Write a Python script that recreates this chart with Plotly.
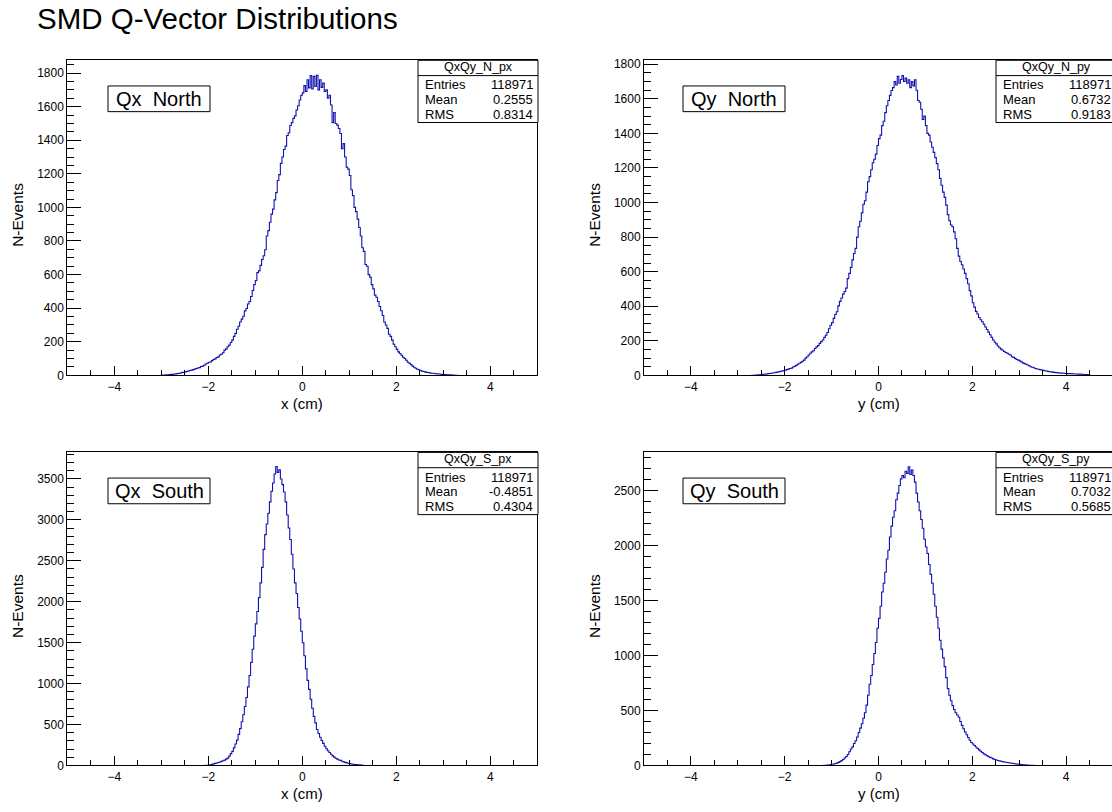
import plotly.graph_objects as go

W, H = 1112, 812
bin_width = 1 / 30

# ---- histogram contents (counts per bin, bins of width 1/30 starting at *_start) ----
qx_north_start = -3.0
qx_north = [
    1, 2, 2, 3, 4, 5, 6, 5, 8, 9, 11, 12, 14, 18, 17, 21, 24, 26, 29, 31, 34, 37, 41, 44, 46, 53, 55, 60, 68, 72,
    78, 80, 88, 94, 98, 106, 110, 121, 126, 135, 150, 158, 170, 180, 196, 210, 232, 250, 275, 292, 318, 335, 352, 384, 398, 425, 440, 470, 505, 540,
    565, 612, 622, 655, 690, 712, 748, 830, 862, 912, 960, 990, 1045, 1088, 1160, 1195, 1262, 1300, 1345, 1365, 1428, 1445, 1488, 1505, 1530, 1545, 1580, 1605, 1640, 1668,
    1682, 1725, 1690, 1760, 1712, 1785, 1705, 1780, 1720, 1786, 1700, 1760, 1715, 1740, 1690, 1700, 1650, 1668, 1610, 1505, 1565, 1500, 1490, 1470, 1440, 1350, 1380, 1300, 1240, 1228,
    1190, 1105, 1070, 1000, 975, 930, 880, 830, 760, 738, 660, 650, 600, 585, 540, 515, 478, 465, 440, 410, 385, 356, 318, 300, 280, 245, 232, 210, 185, 170,
    155, 140, 130, 120, 108, 100, 90, 78, 72, 64, 55, 48, 42, 36, 33, 29, 25, 23, 21, 18, 17, 15, 13, 13, 11, 10, 9, 8, 7, 6,
    5, 5, 4, 4, 3, 2, 2, 1, 1,
]

qy_north_start = -2.7
qy_north = [
    1, 1, 2, 2, 3, 3, 4, 6, 7, 8, 10, 11, 12, 14, 15, 17, 19, 21, 23, 25, 28,
    30, 33, 36, 40, 42, 48, 52, 58, 64, 70, 75, 82, 88, 100, 108, 118, 128, 136, 142, 155, 165, 172, 185, 195, 205, 220, 232, 248, 270, 290,
    305, 330, 352, 368, 402, 428, 448, 470, 485, 505, 560, 590, 625, 668, 705, 735, 800, 860, 892, 940, 990, 1010, 1060, 1120, 1150, 1190, 1230, 1250, 1280, 1330,
    1370, 1390, 1445, 1470, 1520, 1560, 1590, 1620, 1648, 1665, 1700, 1680, 1730, 1690, 1712, 1735, 1700, 1720, 1690, 1710, 1665, 1700, 1675, 1710, 1650, 1590, 1580, 1540, 1480, 1500,
    1445, 1400, 1390, 1350, 1320, 1290, 1260, 1225, 1190, 1140, 1100, 1060, 1030, 985, 930, 895, 870, 860, 830, 790, 735, 690, 660, 640, 615, 590, 560, 530, 490, 460,
    420, 395, 370, 355, 335, 322, 310, 296, 280, 265, 250, 235, 220, 205, 192, 182, 170, 160, 152, 145, 138, 132, 128, 122, 118, 108, 104, 98, 92, 88,
    84, 78, 72, 68, 64, 60, 56, 50, 47, 44, 40, 37, 35, 33, 31, 29, 27, 25, 23, 21, 20, 19, 17, 16, 16, 14, 13, 13, 12, 11,
    11, 10, 10, 10, 9, 8, 8, 7, 7, 7, 6, 5, 5, 4, 3,
]

qx_south_start = -2.1
qx_south = [
    0, 1, 1, 3, 8, 14, 20, 26, 30, 36, 42, 50, 58, 66, 78, 90, 115, 145, 172, 215, 262,
    310, 380, 450, 535, 620, 720, 830, 960, 1100, 1260, 1420, 1580,
    1730, 1880, 2050, 2230, 2420, 2640, 2820, 2950, 3080, 3220, 3350, 3450, 3560, 3652, 3580,
    3610, 3500, 3430, 3340, 3220, 3060, 2900, 2760, 2580, 2400, 2230, 2100, 1930, 1790, 1640,
    1500, 1340, 1180, 1040, 930, 810, 700, 600, 520, 440, 390, 345, 305, 270, 235, 205, 180, 158,
    138, 118, 102, 88, 78, 68, 62, 52, 44, 38, 32, 27, 23, 19, 16, 13, 11, 9, 7, 5, 3,
]

qy_south_start = -1.2
qy_south = [
    0, 1, 1, 3, 5, 8, 11, 14, 18, 22, 28, 35, 44, 55, 68, 82, 100, 125, 150, 170, 200,
    225, 260, 300, 340, 380, 430, 480, 550, 640, 740, 820, 920, 1020, 1120, 1250,
    1340, 1450, 1580, 1660, 1760, 1880, 1960, 2080, 2180, 2260, 2320, 2420, 2480, 2550, 2610,
    2640, 2620, 2680, 2660, 2720, 2650, 2690, 2640, 2580, 2480, 2400, 2320, 2240, 2160, 2060,
    1990, 1930, 1830, 1740, 1660, 1560, 1450, 1350, 1250, 1140, 1060, 980, 900, 800, 700,
    640, 590, 545, 510, 480, 460, 440, 400, 365, 335, 305, 280, 255, 230, 210,
    196, 182, 168, 155, 142, 130, 118, 106, 98, 90, 80, 74, 68, 60, 55, 50, 46, 42, 39, 35, 32,
    29, 27, 25, 23, 20, 18, 16, 14, 12, 11, 9, 7, 6, 4, 3, 2, 1, 1,
]

hist_names = ["QxQy_N_px", "QxQy_N_py", "QxQy_S_px", "QxQy_S_py"]
entries = ["118971", "118971", "118971", "118971"]
means = ["0.2555", "0.6732", "-0.4851", "0.7032"]
rmss = ["0.8314", "0.9183", "0.4304", "0.5685"]
panel_labels = ["Qx  North", "Qy  North", "Qx  South", "Qy  South"]
x_titles = ["x (cm)", "y (cm)", "x (cm)", "y (cm)"]
y_title = "N-Events"
main_title = "SMD Q-Vector Distributions"

FONT = "Liberation Sans, Arial, Helvetica, sans-serif"
LINE_COLOR = "#1010b0"


def px(X):
    return X / W


def py(Y):
    return 1 - Y / H


def hist_xy(start, vals):
    n = len(vals)
    edges = [start + i * bin_width for i in range(n + 1)]
    xs = [edges[0]] + edges[:-1] + [edges[-1]]
    ys = [0] + list(vals) + [0]
    return xs, ys


fig = go.Figure()

panels = [
    dict(data=(qx_north_start, qx_north), xl=67.3, xr=537.3, yt=58, yb=377, xrange=[-5, 5], ymax=1876, dy=200, mdy=50, right=False),
    dict(data=(qy_north_start, qy_north), xl=644, xr=1112, yt=58, yb=377, xrange=[-5, 4.979], ymax=1823, dy=200, mdy=50, right=True),
    dict(data=(qx_south_start, qx_south), xl=67.3, xr=537.3, yt=455, yb=772, xrange=[-5, 5], ymax=3824, dy=500, mdy=100, right=False),
    dict(data=(qy_south_start, qy_south), xl=644, xr=1112, yt=455, yb=772, xrange=[-5, 4.979], ymax=2851, dy=500, mdy=100, right=True),
]

annotations = []
shapes = []

for i, p in enumerate(panels):
    k = "" if i == 0 else str(i + 1)
    xs, ys = hist_xy(*p["data"])
    fig.add_trace(go.Scatter(
        x=xs, y=ys, mode="lines", line=dict(color=LINE_COLOR, width=1.1, shape="hv"),
        xaxis="x" + k, yaxis="y" + k, showlegend=False, hoverinfo="skip",
    ))
    fig.layout["xaxis" + k] = dict(
        domain=[px(p["xl"]), min(1.0, px(p["xr"]))], range=p["xrange"], anchor="y" + k,
        showline=True, linecolor="black", linewidth=1, mirror=True,
        showgrid=False, zeroline=False,
        ticks="inside", ticklen=9, tickcolor="black", tickwidth=1,
        tick0=0, dtick=2,
        minor=dict(ticks="inside", ticklen=5, dtick=0.5, tickcolor="black", tickwidth=1, showgrid=False),
        tickfont=dict(family=FONT, size=12, color="black"),
    )
    fig.layout["yaxis" + k] = dict(
        domain=[py(p["yb"]), py(p["yt"])], range=[0, p["ymax"]], anchor="x" + k,
        showline=True, linecolor="black", linewidth=1, mirror=not p["right"],
        showgrid=False, zeroline=False,
        ticks="inside", ticklen=14, tickcolor="black", tickwidth=1,
        tick0=0, dtick=p["dy"],
        minor=dict(ticks="inside", ticklen=7, dtick=p["mdy"], tickcolor="black", tickwidth=1, showgrid=False),
        tickfont=dict(family=FONT, size=12, color="black"),
    )

    # axis titles
    xc = p["xl"] + 235
    annotations.append(dict(x=px(xc), y=py(p["yb"] + 28), xref="paper", yref="paper",
                            text=x_titles[i], showarrow=False, xanchor="center", yanchor="middle",
                            font=dict(family=FONT, size=15, color="black")))
    yx = 18 if not p["right"] else 595
    annotations.append(dict(x=px(yx), y=py((p["yt"] + p["yb"]) / 2 - 3), xref="paper", yref="paper",
                            text=y_title, showarrow=False, textangle=-90, xanchor="center", yanchor="middle",
                            font=dict(family=FONT, size=15.5, color="black")))

    # label box
    lx0 = 108 if not p["right"] else 683
    lx1 = lx0 + 102
    ly0 = p["yt"] + 26
    ly1 = ly0 + 26
    shapes.append(dict(type="rect", xref="paper", yref="paper", x0=px(lx0), x1=px(lx1), y0=py(ly1), y1=py(ly0),
                       line=dict(color="black", width=1), fillcolor="white", layer="above"))
    annotations.append(dict(x=px((lx0 + lx1) / 2), y=py((ly0 + ly1) / 2), xref="paper", yref="paper",
                            text=panel_labels[i], showarrow=False, xanchor="center", yanchor="middle",
                            font=dict(family=FONT, size=20, color="black")))

    # stats box
    sx0 = 418 if not p["right"] else 996
    sx1 = sx0 + 120
    sy0 = p["yt"]
    sy1 = sy0 + 63
    shapes.append(dict(type="rect", xref="paper", yref="paper", x0=px(sx0), x1=px(sx1), y0=py(sy1), y1=py(sy0),
                       line=dict(color="black", width=1), fillcolor="white", layer="above"))
    shapes.append(dict(type="line", xref="paper", yref="paper", x0=px(sx0), x1=px(sx1), y0=py(sy0 + 15.5), y1=py(sy0 + 15.5),
                       line=dict(color="black", width=1), layer="above"))
    annotations.append(dict(x=px((sx0 + sx1) / 2), y=py(sy0 + 7), xref="paper", yref="paper",
                            text=hist_names[i], showarrow=False, xanchor="center", yanchor="middle",
                            font=dict(family=FONT, size=12.5, color="black")))
    for j, (lab, val) in enumerate([("Entries", entries[i]), ("Mean", means[i]), ("RMS", rmss[i])]):
        yy = sy0 + 25 + 15 * j
        annotations.append(dict(x=px(sx0 + 5), y=py(yy), xref="paper", yref="paper",
                                text=lab, showarrow=False, xanchor="left", yanchor="middle",
                                font=dict(family=FONT, size=13, color="black")))
        annotations.append(dict(x=px(sx1 - 3), y=py(yy), xref="paper", yref="paper",
                                text=val, showarrow=False, xanchor="right", yanchor="middle",
                                font=dict(family=FONT, size=13, color="black")))

annotations.append(dict(x=px(35), y=py(16), xref="paper", yref="paper", text=main_title,
                        showarrow=False, xanchor="left", yanchor="middle",
                        font=dict(family=FONT, size=29.5, color="black")))

fig.update_layout(
    width=W, height=H, margin=dict(l=0, r=0, t=0, b=0),
    paper_bgcolor="white", plot_bgcolor="white",
    showlegend=False, annotations=annotations, shapes=shapes,
)

fig.write_html("out.html")
